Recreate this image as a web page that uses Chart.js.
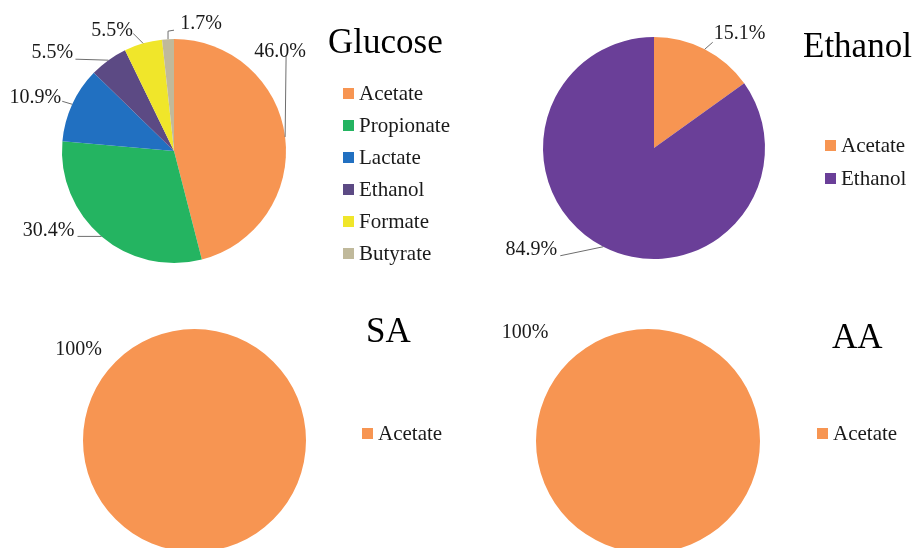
<!DOCTYPE html>
<html>
<head>
<meta charset="utf-8">
<script src="https://cdn.jsdelivr.net/npm/chart.js@4/dist/chart.umd.min.js"></script>
<style>
  html, body { margin: 0; padding: 0; background: #fff; }
  body { width: 919px; height: 548px; overflow: hidden; position: relative; }
  canvas { position: absolute; }
</style>
</head>
<body>
<canvas id="glucose" width="460" height="280" style="left:0;top:0"></canvas>
<canvas id="ethanol" width="459" height="280" style="left:460px;top:0"></canvas>
<canvas id="sa" width="460" height="270" style="left:0;top:290px"></canvas>
<canvas id="aa" width="459" height="270" style="left:460px;top:290px"></canvas>
<script>
// product shares (%) per substrate
const glucoseLabels = ['Acetate', 'Propionate', 'Lactate', 'Ethanol', 'Formate', 'Butyrate']
const glucoseValues = [46.0, 30.4, 10.9, 5.5, 5.5, 1.7]
const ethanolLabels = ['Acetate', 'Ethanol']
const ethanolValues = [15.1, 84.9]
const saLabels = ['Acetate']
const saValues = [100]
const aaLabels = ['Acetate']
const aaValues = [100]

const colours = {
  Acetate: '#f79552',
  Propionate: '#24b461',
  Lactate: '#2170c1',
  Ethanol: '#5c4a84',
  Formate: '#f0e62a',
  Butyrate: '#c0b99b',
}

const serif = '"Liberation Serif", "Times New Roman", serif'

/**
 * Titre, légende et étiquettes (avec traits de rappel) dessinés sur chaque canvas.
 */
const decorPlugin = {
  id: 'decor',
  afterDraw(chart, args, opts) {
    const ctx = chart.ctx
    ctx.save()

    // titre
    ctx.fillStyle = '#000'
    ctx.font = '35px ' + serif
    ctx.textAlign = 'left'
    ctx.textBaseline = 'alphabetic'
    ctx.fillText(opts.title, opts.titleX, opts.titleY)

    // légende
    const ds = chart.data.datasets[0]
    ctx.font = '21px ' + serif
    ctx.textBaseline = 'middle'
    chart.data.labels.forEach((lab, i) => {
      const cy = opts.legendY + i * opts.legendGap
      ctx.fillStyle = ds.backgroundColor[i]
      ctx.fillRect(opts.legendX, cy - 5, 11, 11)
      ctx.fillStyle = '#1a1a1a'
      ctx.fillText(lab, opts.legendX + 16, cy + 1)
    })

    // étiquettes de valeur
    const arcs = chart.getDatasetMeta(0).data
    ctx.font = '20px ' + serif
    ctx.textAlign = 'center'
    arcs.forEach((arc, i) => {
      const spot = opts.spots[i]
      if (!spot) return
      const mid = (arc.startAngle + arc.endAngle) / 2
      const ex = arc.x + Math.cos(mid) * arc.outerRadius
      const ey = arc.y + Math.sin(mid) * arc.outerRadius
      if (spot.line) {
        ctx.strokeStyle = '#6e6e6e'
        ctx.lineWidth = 1
        ctx.beginPath()
        ctx.moveTo(ex, ey)
        spot.line.forEach(([dx, dy]) => ctx.lineTo(ex + dx, ey + dy))
        ctx.stroke()
      }
      ctx.fillStyle = '#1a1a1a'
      ctx.fillText(ds.data[i].toFixed(opts.decimals) + '%', ex + spot.text[0], ey + spot.text[1])
    })
    ctx.restore()
  },
}

const makePie = (el, labels, values, padding, decor, palette) => new Chart(el, {
  type: 'pie',
  data: {
    labels,
    datasets: [{
      data: values,
      backgroundColor: palette || labels.map((l) => colours[l]),
      borderWidth: 0,
      hoverOffset: 0,
    }],
  },
  options: {
    responsive: false,
    animation: false,
    events: [],
    layout: { padding },
    plugins: {
      legend: { display: false },
      tooltip: { enabled: false },
      decor,
    },
  },
  plugins: [decorPlugin],
})

makePie(document.querySelector('#glucose'), glucoseLabels, glucoseValues,
  { left: 62, right: 174, top: 39, bottom: 17 },
  {
    title: 'Glucose', titleX: 328, titleY: 53,
    legendX: 343, legendY: 93, legendGap: 32, decimals: 1,
    spots: [
      { text: [-5, -85], line: [[1, -82]] },
      { text: [-53, -6], line: [[-24, 0]] },
      { text: [-37, -7], line: [[-10, -3]] },
      { text: [-56, -7], line: [[-33, -1]] },
      { text: [-31, -13], line: [[-10, -10]] },
      { text: [33, -15], line: [[0, -8], [6, -9]] },
    ],
  })

makePie(document.querySelector('#ethanol'), ethanolLabels, ethanolValues,
  { left: 83, right: 154, top: 37, bottom: 21 },
  {
    title: 'Ethanol', titleX: 343, titleY: 57,
    legendX: 365, legendY: 145, legendGap: 33, decimals: 1,
    spots: [
      { text: [35, -16], line: [[8, -7]] },
      { text: [-72, 3], line: [[-43, 9]] },
    ],
  },
  ['#f79552', '#6a3f98'])

makePie(document.querySelector('#sa'), saLabels, saValues,
  { left: 83, right: 154, top: 39, bottom: 8 },
  {
    title: 'SA', titleX: 366, titleY: 52,
    legendX: 362, legendY: 143, legendGap: 32, decimals: 0,
    spots: [{ text: [-116, -202] }],
  })

makePie(document.querySelector('#aa'), aaLabels, aaValues,
  { left: 76, right: 159, top: 39, bottom: 7 },
  {
    title: 'AA', titleX: 372, titleY: 58,
    legendX: 357, legendY: 143, legendGap: 32, decimals: 0,
    spots: [{ text: [-123, -220] }],
  })
</script>
</body>
</html>
